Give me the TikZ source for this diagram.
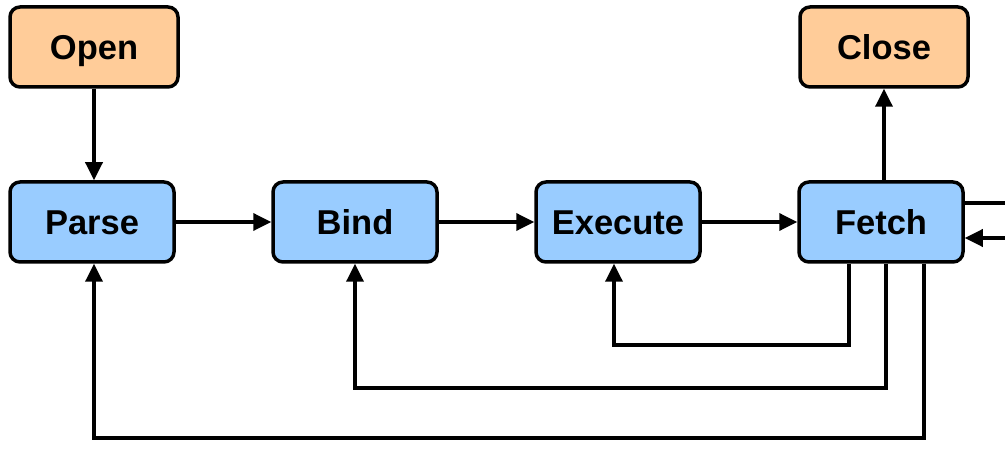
\documentclass[tikz,border=0pt]{standalone}
\usepackage{fontspec}
\setmainfont{Liberation Sans}
\usetikzlibrary{arrows.meta}
\definecolor{stateorange}{RGB}{255,204,153}
\definecolor{stateblue}{RGB}{153,204,255}
\tikzset{
  box/.style={draw=black, line width=3.5pt, rounded corners=10pt,
    minimum width=164pt, minimum height=80pt, inner sep=0pt,
    text height=24.7pt, text depth=0pt,
    font=\fontsize{34.5}{38}\selectfont\bfseries},
  endbox/.style={box, fill=stateorange, minimum width=168pt},
  stepbox/.style={box, fill=stateblue},
  flow/.style={line width=3.5pt, -{Triangle[length=18pt,width=17pt]}},
  wire/.style={line width=3.5pt}
}
\begin{document}
\begin{tikzpicture}[x=1pt,y=-1pt]
\useasboundingbox (0,0) rectangle (1005,473);
\node[endbox] (open) at (94,47) {Open};
\node[endbox] (close) at (884,47) {Close};
\node[stepbox] (parse) at (92,222) {Parse};
\node[stepbox] (bind) at (355,222) {Bind};
\node[stepbox] (exec) at (618,222) {Execute};
\node[stepbox] (fetch) at (881,222) {Fetch};
\coordinate (outR) at (1006,203);
\coordinate (inR) at (1006,238);

\draw[flow] (open.south -| 94,0) -- (parse.north -| 94,0);
\draw[flow] (parse) -- (bind);
\draw[flow] (bind) -- (exec);
\draw[flow] (exec) -- (fetch);
\draw[flow] (fetch.north -| 884,0) -- (close.south -| 884,0);
\draw[wire] (fetch.east |- outR) -- (outR);
\draw[flow] (inR) -- (fetch.east |- inR);
\draw[flow] (fetch.south -| 849,0) |- (614,345) -- (exec.south -| 614,0);
\draw[flow] (fetch.south -| 886,0) |- (355,388) -- (bind.south);
\draw[flow] (fetch.south -| 924,0) |- (94,438) -- (parse.south -| 94,0);
\end{tikzpicture}
\end{document}
